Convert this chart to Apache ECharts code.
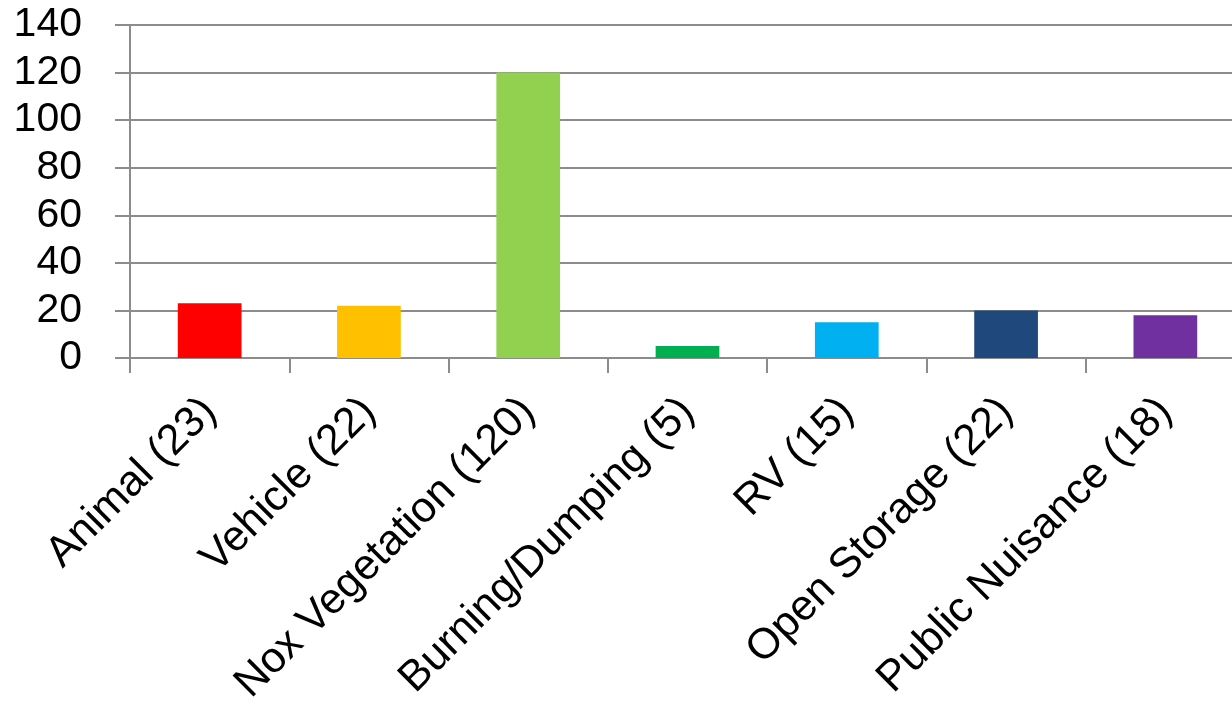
<!DOCTYPE html>
<html>
<head>
<meta charset="utf-8">
<script src="https://cdn.jsdelivr.net/npm/echarts@6/dist/echarts.min.js"></script>
<style>
html,body{margin:0;padding:0;background:#fff;}
#c{width:1232px;height:715px;}
</style>
</head>
<body>
<div id="c"></div>
<script>
const categories = ["Animal (23)", "Vehicle (22)", "Nox Vegetation (120)", "Burning/Dumping (5)", "RV (15)", "Open Storage (22)", "Public Nuisance (18)"];
const values = [23, 22, 120, 5, 15, 20, 18];
const barColors = ["#FF0000", "#FFC000", "#92D050", "#00B050", "#00B0F0", "#1F497D", "#7030A0"];
const yTicks = { min: 0, max: 140, interval: 20 };

const chart = echarts.init(document.getElementById('c'), null, { renderer: 'canvas' });
const font = "'Liberation Sans', Arial, sans-serif";
chart.setOption({
  animation: false,
  backgroundColor: '#fff',
  grid: { left: 130, top: 25, right: -13, bottom: 357, containLabel: false, outerBoundsMode: 'none' },
  xAxis: {
    type: 'category',
    data: categories,
    axisLine: { show: true, lineStyle: { color: '#8c8c8c', width: 2 } },
    axisTick: { show: true, length: 15, lineStyle: { color: '#8c8c8c', width: 2 } },
    axisLabel: { rotate: 45, interval: 0, margin: 47, color: '#000', fontFamily: font, fontSize: 43 }
  },
  yAxis: {
    type: 'value',
    min: yTicks.min, max: yTicks.max, interval: yTicks.interval,
    axisLine: { show: true, lineStyle: { color: '#8c8c8c', width: 2 } },
    axisTick: { show: true, length: 15, lineStyle: { color: '#8c8c8c', width: 2 } },
    splitLine: { show: true, lineStyle: { color: '#8c8c8c', width: 2 } },
    axisLabel: { margin: 48, color: '#000', fontFamily: font, fontSize: 41 }
  },
  series: [{
    type: 'bar',
    data: values.map((v, i) => ({ value: v, itemStyle: { color: barColors[i] } })),
    barWidth: '40%'
  }]
});
</script>
</body>
</html>
